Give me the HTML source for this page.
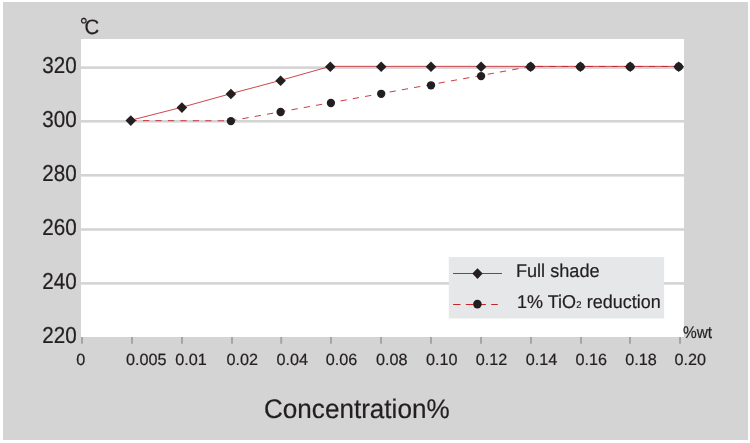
<!DOCTYPE html>
<html lang="en"><head><meta charset="utf-8"><title>Concentration chart</title>
<style>html,body{margin:0;padding:0;background:#fff;}svg{display:block;}text{font-family:"Liberation Sans",Arial,Helvetica,sans-serif;fill:#231f20;stroke:#231f20;stroke-width:0.2px;text-rendering:geometricPrecision;}</style></head><body>
<svg width="750" height="443" viewBox="0 0 750 443">
<rect x="0" y="0" width="750" height="443" fill="#fff"/>
<rect x="3" y="2" width="745" height="438" fill="#d4d4d4"/>
<rect x="81" y="39" width="603" height="298" fill="#fff"/>
<rect x="81" y="66.3" width="603" height="2.6" fill="#d4d4d4"/>
<rect x="81" y="120" width="603" height="2.6" fill="#d4d4d4"/>
<rect x="81" y="174" width="603" height="2.6" fill="#d4d4d4"/>
<rect x="81" y="228.2" width="603" height="2.6" fill="#d4d4d4"/>
<rect x="81" y="282.1" width="603" height="2.6" fill="#d4d4d4"/>
<rect x="81" y="337" width="2" height="6.8" fill="#a2a5aa"/>
<rect x="131" y="337" width="2" height="6.8" fill="#a2a5aa"/>
<rect x="181" y="337" width="2" height="6.8" fill="#a2a5aa"/>
<rect x="231" y="337" width="2" height="6.8" fill="#a2a5aa"/>
<rect x="280.2" y="337" width="2" height="6.8" fill="#a2a5aa"/>
<rect x="330" y="337" width="2" height="6.8" fill="#a2a5aa"/>
<rect x="380" y="337" width="2" height="6.8" fill="#a2a5aa"/>
<rect x="430" y="337" width="2" height="6.8" fill="#a2a5aa"/>
<rect x="480" y="337" width="2" height="6.8" fill="#a2a5aa"/>
<rect x="530" y="337" width="2" height="6.8" fill="#a2a5aa"/>
<rect x="580" y="337" width="2" height="6.8" fill="#a2a5aa"/>
<rect x="629" y="337" width="2" height="6.8" fill="#a2a5aa"/>
<rect x="679" y="337" width="2" height="6.8" fill="#a2a5aa"/>
<polyline points="130.8,120.25 181.9,107.25 230.9,93.65 280.6,80.35 330.3,66.35 381.2,66.35 431,66.35 481.1,66.35 530.6,66.35 580.4,66.35 630.2,66.35 678.7,66.35" fill="none" stroke="#c4262e" stroke-width="0.85"/>
<polyline points="130.8,120.6 230.9,120.8 530.6,66.5 678.7,66.5" fill="none" stroke="#c4262e" stroke-width="0.9" stroke-dasharray="6.3 6.16" stroke-dashoffset="0.3"/>
<circle cx="230.9" cy="121.1" r="4.15" fill="#231f20"/>
<circle cx="280.6" cy="112" r="4.15" fill="#231f20"/>
<circle cx="330.9" cy="103" r="4.15" fill="#231f20"/>
<circle cx="381.2" cy="93.8" r="4.15" fill="#231f20"/>
<circle cx="431" cy="85.3" r="4.15" fill="#231f20"/>
<circle cx="481.1" cy="76.1" r="4.15" fill="#231f20"/>
<path d="M130.8 115.3 L136.1 120.6 L130.8 125.9 L125.5 120.6Z" fill="#231f20"/>
<path d="M181.9 102.3 L187.2 107.6 L181.9 112.9 L176.6 107.6Z" fill="#231f20"/>
<path d="M230.9 88.7 L236.2 94 L230.9 99.3 L225.6 94Z" fill="#231f20"/>
<path d="M280.6 75.4 L285.9 80.7 L280.6 86 L275.3 80.7Z" fill="#231f20"/>
<path d="M330.3 61.4 L335.6 66.7 L330.3 72 L325 66.7Z" fill="#231f20"/>
<path d="M381.2 61.4 L386.5 66.7 L381.2 72 L375.9 66.7Z" fill="#231f20"/>
<path d="M431 61.4 L436.3 66.7 L431 72 L425.7 66.7Z" fill="#231f20"/>
<path d="M481.1 61.4 L486.4 66.7 L481.1 72 L475.8 66.7Z" fill="#231f20"/>
<path d="M530.6 61.4 L535.9 66.7 L530.6 72 L525.3 66.7Z" fill="#231f20"/>
<circle cx="530.6" cy="66.7" r="4.3" fill="#231f20"/>
<path d="M580.4 61.4 L585.7 66.7 L580.4 72 L575.1 66.7Z" fill="#231f20"/>
<circle cx="580.4" cy="66.7" r="4.3" fill="#231f20"/>
<path d="M630.2 61.4 L635.5 66.7 L630.2 72 L624.9 66.7Z" fill="#231f20"/>
<circle cx="630.2" cy="66.7" r="4.3" fill="#231f20"/>
<path d="M678.7 61.4 L684 66.7 L678.7 72 L673.4 66.7Z" fill="#231f20"/>
<circle cx="678.7" cy="66.7" r="4.3" fill="#231f20"/>
<rect x="448.8" y="257.1" width="215.3" height="61.4" fill="#e6e7e8"/>
<line x1="453" y1="273.5" x2="502" y2="273.5" stroke="#c4262e" stroke-width="1.1"/>
<path d="M477.5 268.3 L482.7 273.6 L477.5 278.9 L472.3 273.6Z" fill="#231f20"/>
<line x1="453.1" y1="304.5" x2="497.8" y2="304.5" stroke="#c4262e" stroke-width="1.1" stroke-dasharray="7.4 5.3"/>
<circle cx="477.4" cy="304.1" r="4.3" fill="#231f20"/>
<text transform="translate(515.9 276.9) scale(0.98 1)" font-size="18.5" stroke-width="0.4">Full shade</text>
<text transform="translate(517.1 308) scale(0.972 1)" font-size="18.5" stroke-width="0.4">1% TiO<tspan font-size="9.8" dx="0.3">2</tspan><tspan dx="0.2"> reduction</tspan></text>
<text transform="translate(76.6 73.2) scale(0.896 1)" font-size="23" text-anchor="end">320</text>
<text transform="translate(76.6 126.9) scale(0.896 1)" font-size="23" text-anchor="end">300</text>
<text transform="translate(76.6 180.9) scale(0.896 1)" font-size="23" text-anchor="end">280</text>
<text transform="translate(76.6 235.1) scale(0.896 1)" font-size="23" text-anchor="end">260</text>
<text transform="translate(76.6 289) scale(0.896 1)" font-size="23" text-anchor="end">240</text>
<text transform="translate(76.6 342.8) scale(0.896 1)" font-size="23" text-anchor="end">220</text>
<text x="76.2" y="364.5" font-size="16.2" stroke-width="0.35">0</text>
<text x="126" y="364.5" font-size="16.2" stroke-width="0.35">0.005</text>
<text x="175.2" y="364.5" font-size="16.2" stroke-width="0.35">0.01</text>
<text x="226.6" y="364.5" font-size="16.2" stroke-width="0.35">0.02</text>
<text x="276.5" y="364.5" font-size="16.2" stroke-width="0.35">0.04</text>
<text x="325.8" y="364.5" font-size="16.2" stroke-width="0.35">0.06</text>
<text x="376.1" y="364.5" font-size="16.2" stroke-width="0.35">0.08</text>
<text x="426" y="364.5" font-size="16.2" stroke-width="0.35">0.10</text>
<text x="475.8" y="364.5" font-size="16.2" stroke-width="0.35">0.12</text>
<text x="525.7" y="364.5" font-size="16.2" stroke-width="0.35">0.14</text>
<text x="575.4" y="364.5" font-size="16.2" stroke-width="0.35">0.16</text>
<text x="625.3" y="364.5" font-size="16.2" stroke-width="0.35">0.18</text>
<text x="674.6" y="364.5" font-size="16.2" stroke-width="0.35">0.20</text>
<text x="79.7" y="32.1" font-size="20.3" stroke-width="0">°</text>
<text transform="translate(84.4 34.4) scale(0.985 1)" font-size="20.8">C</text>
<text transform="translate(682.9 337.7) scale(0.92 1)" font-size="16.8">%wt</text>
<text transform="translate(264 417.8) scale(0.97 1)" font-size="26.9" stroke-width="0.25">Concentration%</text>
</svg></body></html>
